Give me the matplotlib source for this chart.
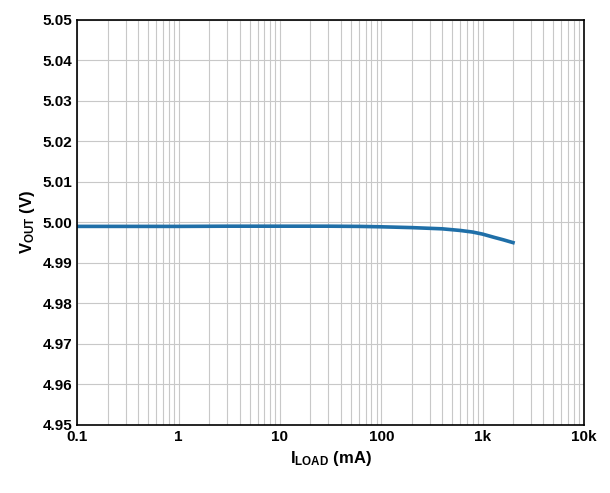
import matplotlib
matplotlib.use("Agg")
import matplotlib.pyplot as plt
from matplotlib.ticker import FixedLocator, LogLocator, NullFormatter

# load current (mA) and output voltage (V)
i_load = [0.1, 0.3, 1, 3, 10, 30, 60, 100, 200, 400, 600, 800, 1000, 1300, 1600, 2000]
v_out = [4.9990, 4.9990, 4.9990, 4.99905, 4.99905, 4.99905, 4.99900, 4.99890, 4.99870, 4.9984, 4.9980, 4.9976, 4.9971, 4.9963, 4.9957, 4.9950]

x_ticks = [0.1, 1, 10, 100, 1000, 10000]
x_labels = ["0.1", "1", "10", "100", "1k", "10k"]
y_ticks = [4.95, 4.96, 4.97, 4.98, 4.99, 5.00, 5.01, 5.02, 5.03, 5.04, 5.05]

plt.rcParams['font.family'] = ['Liberation Sans', 'DejaVu Sans']
plt.rcParams['mathtext.fontset'] = 'custom'
plt.rcParams['mathtext.bf'] = 'Liberation Sans:bold'
plt.rcParams['mathtext.rm'] = 'Liberation Sans'
fig, ax = plt.subplots(figsize=(6.10, 4.93), dpi=100)
fig.subplots_adjust(left=0.127, right=0.957, top=0.96, bottom=0.138)

ax.plot(i_load, v_out, color="#1f6fa8", linewidth=2.6)
ax.set_xscale("log")
ax.set_xlim(0.1, 10000)
ax.set_ylim(4.95, 5.05)
ax.xaxis.set_major_locator(FixedLocator(x_ticks))
ax.set_xticklabels(x_labels, fontweight="bold", fontsize=11)
ax.xaxis.set_minor_locator(LogLocator(base=10, subs=range(2, 10)))
ax.xaxis.set_minor_formatter(NullFormatter())
ax.set_yticks(y_ticks)
ax.set_yticklabels([f"{v:.2f}" for v in y_ticks], fontweight="bold", fontsize=11)
ax.grid(True, which="both", axis="x", color="#c8c8c8", linewidth=0.8)
ax.grid(True, which="major", axis="y", color="#c8c8c8", linewidth=0.8)
ax.tick_params(which="both", length=0)
for s in ax.spines.values():
    s.set_linewidth(1.2)

ax.set_xlabel(r"$\mathbf{I_{LOAD}}$ (mA)", fontweight="bold", fontsize=12)
ax.set_ylabel(r"$\mathbf{V_{OUT}}$ (V)", fontweight="bold", fontsize=12)

fig.savefig("out.png", dpi=100)
